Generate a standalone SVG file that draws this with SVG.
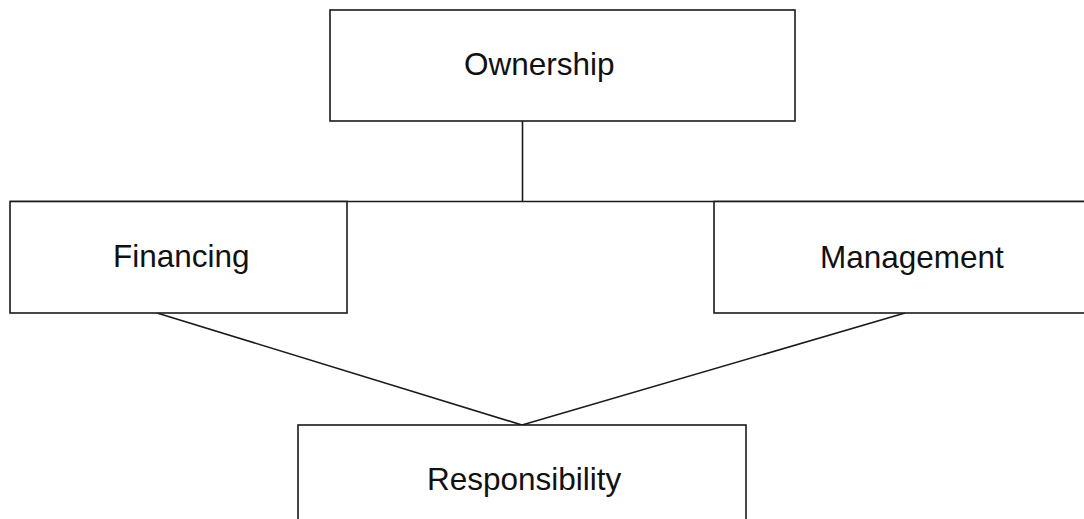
<svg xmlns="http://www.w3.org/2000/svg" width="1084" height="519" viewBox="0 0 1084 519">
<style>
.box{fill:#fff;stroke:#1a1a1a;stroke-width:1.6}
.lbl{font-family:"Liberation Sans",Arial,sans-serif;font-size:31.5px;fill:#111}
.con{stroke:#1a1a1a;stroke-width:1.6;fill:none}
</style>
<rect width="1084" height="519" fill="#fff"/>
<g id="connectors">
<line class="con" x1="522.5" y1="121" x2="522.5" y2="201.5"/>
<line class="con" x1="10" y1="201.5" x2="1084" y2="201.5"/>
<line class="con" x1="157" y1="313" x2="522" y2="425"/>
<line class="con" x1="905" y1="313" x2="522" y2="425"/>
</g>
<g id="ownership">
<rect class="box" x="330" y="10" width="465" height="111"/>
<text class="lbl" x="464" y="75">Ownership</text>
</g>
<g id="financing">
<rect class="box" x="10" y="201.5" width="337" height="111.5"/>
<text class="lbl" x="113" y="267">Financing</text>
</g>
<g id="management">
<rect class="box" x="714" y="201.5" width="380" height="111.5"/>
<text class="lbl" x="820" y="268">Management</text>
</g>
<g id="responsibility">
<rect class="box" x="298" y="425" width="448" height="110"/>
<text class="lbl" x="427" y="490">Responsibility</text>
</g>
</svg>
